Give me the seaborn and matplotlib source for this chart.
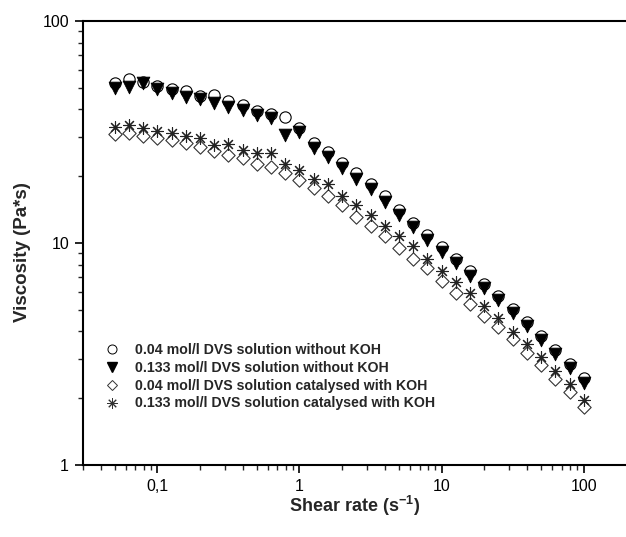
import matplotlib
matplotlib.use("Agg")
import matplotlib.pyplot as plt
from matplotlib.ticker import LogLocator, FuncFormatter, NullFormatter
from matplotlib.lines import Line2D
import seaborn as sns
import pandas as pd

# Shear rate (1/s), 10 points per decade
shear_rate = [0.0501, 0.0631, 0.0794, 0.1, 0.126, 0.158, 0.2, 0.251, 0.316, 0.398,
              0.501, 0.631, 0.794, 1.0, 1.26, 1.58, 2.0, 2.51, 3.16, 3.98,
              5.01, 6.31, 7.94, 10.0, 12.6, 15.8, 20.0, 25.1, 31.6, 39.8,
              50.1, 63.1, 79.4, 100.0]

# Viscosity (Pa*s)
dvs_004_no_koh = [52.4, 54.6, 53.3, 50.9, 49.3, 48.4, 46.0, 46.2, 43.8, 41.8,
                  39.4, 38.1, 36.8, 32.8, 28.3, 25.8, 23.0, 20.6, 18.4, 16.2,
                  14.1, 12.3, 10.85, 9.55, 8.5, 7.5, 6.54, 5.77, 5.04, 4.42,
                  3.81, 3.30, 2.85, 2.47]
dvs_0133_no_koh = [49.8, 50.6, 52.4, 49.3, 47.5, 45.6, 44.4, 42.6, 41.1, 39.7,
                   37.7, 36.5, 30.8, 31.6, 26.8, 24.4, 21.7, 19.5, 17.5, 15.3,
                   13.4, 11.8, 10.3, 9.15, 8.1, 7.12, 6.27, 5.53, 4.84, 4.23,
                   3.66, 3.16, 2.73, 2.35]
dvs_004_koh = [31.0, 31.3, 30.4, 29.7, 29.1, 28.2, 27.0, 26.0, 24.9, 24.2,
               22.6, 21.9, 20.6, 19.2, 17.6, 16.3, 14.8, 13.1, 11.9, 10.7,
               9.45, 8.5, 7.7, 6.75, 5.98, 5.3, 4.69, 4.17, 3.68, 3.21,
               2.82, 2.43, 2.14, 1.83]
dvs_0133_koh = [33.4, 34.0, 33.0, 32.0, 31.3, 30.4, 29.7, 27.6, 27.9, 26.2,
                25.4, 25.4, 22.8, 21.3, 19.4, 18.4, 16.3, 14.9, 13.4, 11.9,
                10.7, 9.7, 8.5, 7.45, 6.65, 5.94, 5.2, 4.58, 3.99, 3.51,
                3.08, 2.66, 2.32, 1.96]

labels = ["0.04 mol/l DVS solution without KOH",
          "0.133 mol/l DVS solution without KOH",
          "0.04 mol/l DVS solution catalysed with KOH",
          "0.133 mol/l DVS solution catalysed with KOH"]

sns.set_style("ticks")
plt.rcParams["font.family"] = ["Liberation Sans", "DejaVu Sans"]
plt.rcParams["mathtext.fontset"] = "custom"
plt.rcParams["mathtext.rm"] = "Liberation Sans"
plt.rcParams["mathtext.bf"] = "Liberation Sans:bold"

fig = plt.figure(figsize=(6.26, 5.37), dpi=100)
ax = fig.add_axes([83 / 626, 1 - 465 / 537, 1 - 83 / 626, (465 - 21) / 537])

styles = [
    dict(marker="o", s=66, facecolor="white", edgecolor="black", linewidth=0.8),
    dict(marker="v", s=84, facecolor="black", edgecolor="black", linewidth=0.6),
    dict(marker="D", s=46, facecolor="white", edgecolor="#333333", linewidth=0.8),
    dict(marker=(8, 2, 0), s=72, color="#222222", linewidth=0.8),
]
series = [dvs_004_no_koh, dvs_0133_no_koh, dvs_004_koh, dvs_0133_koh]

for vals, st in zip(series, styles):
    df = pd.DataFrame({"rate": shear_rate, "visc": vals})
    sns.scatterplot(data=df, x="rate", y="visc", ax=ax, legend=False, zorder=3, **st)

ax.set_xscale("log")
ax.set_yscale("log")
ax.set_xlim(0.03, 198)
ax.set_ylim(1, 100)

ax.xaxis.set_major_locator(LogLocator(base=10, numticks=10))
ax.xaxis.set_minor_locator(LogLocator(base=10, subs=range(2, 10), numticks=20))
ax.yaxis.set_major_locator(LogLocator(base=10, numticks=10))
ax.yaxis.set_minor_locator(LogLocator(base=10, subs=range(2, 10), numticks=20))


def comma_fmt(v, pos):
    if v >= 1:
        return f"{v:.0f}"
    return f"{v:g}".replace(".", ",")


ax.xaxis.set_major_formatter(FuncFormatter(comma_fmt))
ax.yaxis.set_major_formatter(FuncFormatter(comma_fmt))
ax.xaxis.set_minor_formatter(NullFormatter())
ax.yaxis.set_minor_formatter(NullFormatter())

ax.tick_params(which="major", direction="out", length=6, width=1.2, labelsize=11.5,
               colors="black", pad=4)
ax.tick_params(which="minor", direction="out", length=3.5, width=1.0)

for side in ["left", "bottom", "top"]:
    ax.spines[side].set_linewidth(1.5)
    ax.spines[side].set_color("black")
ax.spines["right"].set_visible(False)

ax.set_xlabel(r"Shear rate (s$^{\mathbf{-1}}$)", fontsize=13, fontweight="bold")
ax.set_ylabel("Viscosity (Pa*s)", fontsize=13.5, fontweight="bold")
ax.xaxis.set_label_coords(0.5, (465 - 494) / 444)
ax.yaxis.set_label_coords((31 - 83) / 543, 0.48)

handles = [
    Line2D([], [], linestyle="none", marker="o", markersize=6.5, markerfacecolor="white",
           markeredgecolor="black", markeredgewidth=0.7),
    Line2D([], [], linestyle="none", marker="v", markersize=7.5, markerfacecolor="black",
           markeredgecolor="black"),
    Line2D([], [], linestyle="none", marker="D", markersize=5.5, markerfacecolor="white",
           markeredgecolor="#333333", markeredgewidth=0.7),
    Line2D([], [], linestyle="none", marker=(8, 2, 0), markersize=7.5, color="#333333",
           markeredgewidth=0.7),
]
leg = ax.legend(handles, labels, loc="lower left", bbox_to_anchor=(0.028, 0.11),
                frameon=False, prop={"weight": "bold", "size": 10.2},
                handletextpad=1.0, labelspacing=0.28, handlelength=1.2,
                borderaxespad=0)

fig.savefig("out.png", dpi=100)
